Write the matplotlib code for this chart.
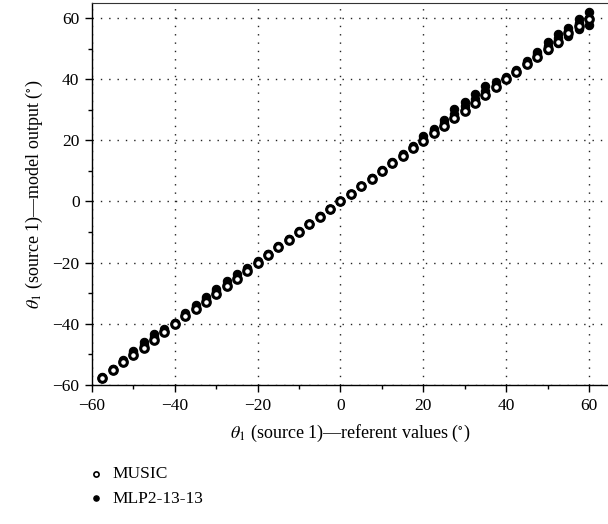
import matplotlib
matplotlib.use("Agg")
import matplotlib.pyplot as plt
from matplotlib.ticker import MultipleLocator

plt.rcParams['font.family'] = ['Liberation Serif', 'DejaVu Serif']
plt.rcParams['mathtext.fontset'] = 'stix'

# Referent angles (deg)
referent = [-57.5, -55, -52.5, -50, -47.5, -45, -42.5, -40, -37.5, -35, -32.5, -30,
            -27.5, -25, -22.5, -20, -17.5, -15, -12.5, -10, -7.5, -5, -2.5, 0,
            2.5, 5, 7.5, 10, 12.5, 15, 17.5, 20, 22.5, 25, 27.5, 30, 32.5, 35,
            37.5, 40, 42.5, 45, 47.5, 50, 52.5, 55, 57.5, 60]

# MUSIC estimates
music = [-57.7, -55.0, -52.6, -50.2, -47.8, -45.2, -42.6, -40.1, -37.6, -35.2, -32.7, -30.2,
         -27.7, -25.2, -22.6, -20.1, -17.5, -15.0, -12.5, -10.0, -7.5, -5.0, -2.5, 0.0,
         2.5, 5.0, 7.5, 10.0, 12.5, 15.0, 17.4, 19.7, 22.3, 24.7, 27.2, 29.7, 32.2, 34.7,
         37.3, 40.0, 42.5, 45.0, 47.4, 49.8, 52.3, 55.0, 57.4, 59.8]

# MLP2-13-13 estimates (lowest, middle, highest outputs at each angle)
mlp_low = [-57.6, -55.0, -52.5, -50.1, -47.7, -45.1, -42.5, -40.0, -37.5, -35.1, -32.6, -30.1,
           -27.6, -25.1, -22.5, -20.0, -17.5, -15.0, -12.5, -10.0, -7.5, -5.0, -2.5, 0.0,
           2.5, 5.0, 7.5, 10.0, 12.5, 15.0, 17.5, 19.8, 22.3, 24.8, 27.3, 29.8, 32.3, 34.8,
           37.3, 40.0, 42.5, 45.0, 47.4, 49.6, 51.8, 54.2, 56.3, 57.8]
mlp_mid = [-57.6, -54.9, -52.2, -49.5, -46.9, -44.3, -42.2, -39.8, -37.1, -34.5, -32.0, -29.4,
           -27.0, -24.6, -22.2, -19.8, -17.3, -14.8, -12.3, -9.9, -7.4, -4.9, -2.4, 0.1,
           2.6, 5.1, 7.6, 10.1, 12.6, 15.2, 17.7, 20.5, 23.0, 25.6, 28.6, 31.1, 33.6, 36.1,
           38.2, 40.3, 42.7, 45.4, 48.2, 51.0, 53.5, 55.8, 58.3, 60.0]
mlp_high = [-57.5, -54.8, -51.9, -48.9, -45.9, -43.3, -41.8, -39.6, -36.6, -33.8, -31.3, -28.6,
            -26.1, -23.8, -21.7, -19.4, -17.1, -14.7, -12.2, -9.8, -7.3, -4.8, -2.4, 0.1,
            2.6, 5.2, 7.7, 10.2, 12.8, 15.4, 18.1, 21.4, 23.6, 26.7, 30.1, 32.6, 35.2, 37.6,
            39.1, 40.6, 42.9, 45.8, 49.0, 52.2, 54.8, 56.6, 59.8, 61.8]

xticks = [-60, -40, -20, 0, 20, 40, 60]
yticks = [-60, -40, -20, 0, 20, 40, 60]

fig = plt.figure(figsize=(6.08, 5.24), dpi=100)
ax = fig.add_axes([92 / 608, (524 - 385) / 524, (608 - 92) / 608, (385 - 3) / 524])

for ys in (mlp_low, mlp_mid, mlp_high):
    ax.scatter(referent, ys, s=36, marker='o', facecolor='black', edgecolor='black',
               linewidths=0.8, zorder=2)
ax.scatter(referent, music, s=30, marker='o', facecolor='white', edgecolor='black',
           linewidths=2.2, zorder=3)

ax.set_xlim(-60, 64.6)
ax.set_ylim(-60, 64.9)
ax.set_xticks(xticks)
ax.set_yticks(yticks)
ax.xaxis.set_minor_locator(MultipleLocator(10))
ax.yaxis.set_minor_locator(MultipleLocator(10))
ax.tick_params(which='major', direction='out', length=5, width=1, labelsize=12.5, pad=4)
ax.tick_params(which='minor', direction='out', length=3, width=1)
ax.spines['right'].set_visible(False)
ax.spines['top'].set_color('#333333')
for s in ('left', 'bottom'):
    ax.spines[s].set_linewidth(1.0)

ax.grid(True, which='major', color='#222222', linestyle=(0, (1, 5)), linewidth=1.0)
ax.set_axisbelow(True)

ax.set_xlabel(r'$\theta_1$ (source 1)—referent values ($^{\circ}$)', fontsize=13, labelpad=7)
ax.set_ylabel(r'$\theta_1$ (source 1)—model output ($^{\circ}$)', fontsize=13, labelpad=5)

h1 = ax.scatter([], [], s=14, marker='o', facecolor='white', edgecolor='black', linewidths=1.2)
h2 = ax.scatter([], [], s=14, marker='o', facecolor='black', edgecolor='black')
fig.legend([h1, h2], ['MUSIC', 'MLP2-13-13'], loc='upper left',
           bbox_to_anchor=(86 / 608, 1 - 466 / 524), frameon=False, fontsize=12.5,
           handletextpad=0.3, labelspacing=0.5, handlelength=1.2, borderaxespad=0,
           borderpad=0)

fig.savefig('out.png', dpi=100)
